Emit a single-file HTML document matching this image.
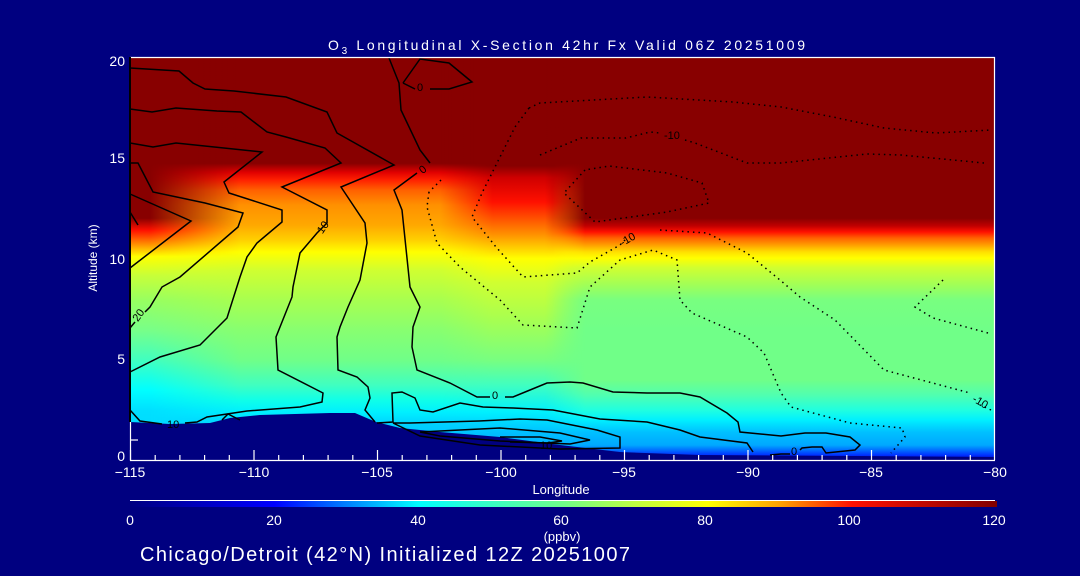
<!DOCTYPE html>
<html><head><meta charset="utf-8"><style>
html,body{margin:0;padding:0;background:#000080;}
svg{display:block;}
text{font-family:"Liberation Sans",sans-serif;fill:#fff;}
</style></head><body>
<svg width="1080" height="576" viewBox="0 0 1080 576" xmlns="http://www.w3.org/2000/svg">
<defs>
<linearGradient id="gBase" gradientUnits="userSpaceOnUse" x1="0" y1="57" x2="0" y2="460">
<stop offset="0" stop-color="#880000"/>
<stop offset="0.264" stop-color="#880000"/>
<stop offset="0.286" stop-color="#e00000"/>
<stop offset="0.305" stop-color="#ff2000"/>
<stop offset="0.330" stop-color="#ff6000"/>
<stop offset="0.367" stop-color="#ff9000"/>
<stop offset="0.417" stop-color="#ffa800"/>
<stop offset="0.454" stop-color="#ffd000"/>
<stop offset="0.484" stop-color="#ffff00"/>
<stop offset="0.529" stop-color="#d0ff30"/>
<stop offset="0.603" stop-color="#a8ff50"/>
<stop offset="0.677" stop-color="#88ff70"/>
<stop offset="0.752" stop-color="#70ff88"/>
<stop offset="0.814" stop-color="#40ffc0"/>
<stop offset="0.851" stop-color="#10ffe8"/>
<stop offset="0.881" stop-color="#00f0ff"/>
<stop offset="0.913" stop-color="#00d0ff"/>
<stop offset="1" stop-color="#00b0ff"/>
</linearGradient>
<linearGradient id="gMid" gradientUnits="userSpaceOnUse" x1="0" y1="57" x2="0" y2="460">
<stop offset="0" stop-color="#880000"/>
<stop offset="0.270" stop-color="#880000"/>
<stop offset="0.300" stop-color="#d00000"/>
<stop offset="0.360" stop-color="#ff1000"/>
<stop offset="0.400" stop-color="#ff5000"/>
<stop offset="0.440" stop-color="#ff9000"/>
<stop offset="0.475" stop-color="#ffd000"/>
<stop offset="0.500" stop-color="#ffff00"/>
<stop offset="0.560" stop-color="#d0ff30"/>
<stop offset="0.650" stop-color="#a8ff50"/>
<stop offset="0.752" stop-color="#78ff80"/>
<stop offset="0.814" stop-color="#40ffc0"/>
<stop offset="0.881" stop-color="#00f0ff"/>
<stop offset="0.931" stop-color="#00c0ff"/>
<stop offset="1" stop-color="#00a0ff"/>
</linearGradient>
<linearGradient id="gEast" gradientUnits="userSpaceOnUse" x1="0" y1="57" x2="0" y2="460">
<stop offset="0" stop-color="#880000"/>
<stop offset="0.400" stop-color="#880000"/>
<stop offset="0.419" stop-color="#c00000"/>
<stop offset="0.434" stop-color="#ff1000"/>
<stop offset="0.449" stop-color="#ff6000"/>
<stop offset="0.467" stop-color="#ffa000"/>
<stop offset="0.484" stop-color="#ffe000"/>
<stop offset="0.499" stop-color="#ffff00"/>
<stop offset="0.523" stop-color="#d0ff30"/>
<stop offset="0.566" stop-color="#a0ff58"/>
<stop offset="0.603" stop-color="#78ff80"/>
<stop offset="0.677" stop-color="#70ff88"/>
<stop offset="0.801" stop-color="#70ff88"/>
<stop offset="0.839" stop-color="#50ffb0"/>
<stop offset="0.876" stop-color="#20ffe0"/>
<stop offset="0.901" stop-color="#00f0ff"/>
<stop offset="0.931" stop-color="#00c0ff"/>
<stop offset="0.963" stop-color="#00a8ff"/>
<stop offset="0.975" stop-color="#0070ff"/>
<stop offset="0.988" stop-color="#0030ff"/>
<stop offset="1" stop-color="#0000c0"/>
</linearGradient>
<linearGradient id="gWest" gradientUnits="userSpaceOnUse" x1="0" y1="57" x2="0" y2="460">
<stop offset="0" stop-color="#880000"/>
<stop offset="0.400" stop-color="#880000"/>
<stop offset="0.430" stop-color="#ff1000"/>
<stop offset="0.465" stop-color="#ff9000"/>
<stop offset="0.495" stop-color="#ffff00"/>
<stop offset="0.541" stop-color="#c8ff38"/>
<stop offset="0.603" stop-color="#98ff60"/>
<stop offset="0.677" stop-color="#78ff88"/>
<stop offset="0.752" stop-color="#40ffc0"/>
<stop offset="0.826" stop-color="#00ffff"/>
<stop offset="0.876" stop-color="#00e0ff"/>
<stop offset="1" stop-color="#00d0ff"/>
</linearGradient>
<linearGradient id="mE" gradientUnits="userSpaceOnUse" x1="545" y1="0" x2="585" y2="0">
<stop offset="0" stop-color="#000"/><stop offset="1" stop-color="#fff"/>
</linearGradient>
<linearGradient id="mM" gradientUnits="userSpaceOnUse" x1="440" y1="0" x2="590" y2="0">
<stop offset="0" stop-color="#000"/><stop offset="0.35" stop-color="#fff"/><stop offset="0.75" stop-color="#fff"/><stop offset="1" stop-color="#000"/>
</linearGradient>
<linearGradient id="mW" gradientUnits="userSpaceOnUse" x1="150" y1="0" x2="240" y2="0">
<stop offset="0" stop-color="#fff"/><stop offset="1" stop-color="#000"/>
</linearGradient>
<mask id="maskE"><rect x="0" y="0" width="1080" height="576" fill="url(#mE)"/></mask>
<mask id="maskM"><rect x="0" y="0" width="1080" height="576" fill="url(#mM)"/></mask>
<mask id="maskW"><rect x="0" y="0" width="1080" height="576" fill="url(#mW)"/></mask>
<linearGradient id="gBar" x1="0" y1="0" x2="1" y2="0">
<stop offset="0" stop-color="#000080"/>
<stop offset="0.167" stop-color="#0000ff"/>
<stop offset="0.333" stop-color="#00ffff"/>
<stop offset="0.5" stop-color="#70ff88"/>
<stop offset="0.583" stop-color="#c0ff40"/>
<stop offset="0.667" stop-color="#ffff00"/>
<stop offset="0.75" stop-color="#ffa000"/>
<stop offset="0.833" stop-color="#ff1000"/>
<stop offset="1" stop-color="#800000"/>
</linearGradient>
</defs>

<text x="328" y="50" font-size="14" textLength="477" lengthAdjust="spacing">O<tspan font-size="10" dy="4">3</tspan><tspan dy="-4"> Longitudinal X-Section 42hr  Fx Valid 06Z 20251009</tspan></text>

<!-- field -->
<rect x="130" y="57" width="865" height="403" fill="url(#gBase)"/>
<rect x="130" y="57" width="865" height="403" fill="url(#gMid)" mask="url(#maskM)"/>
<rect x="130" y="57" width="865" height="403" fill="url(#gEast)" mask="url(#maskE)"/>
<rect x="130" y="57" width="865" height="403" fill="url(#gWest)" mask="url(#maskW)"/>
<!-- terrain -->
<polygon points="130,422 170,424 210,423 230,418 260,415 330,413 355,413 376,422 400,428 440,432 500,437 560,445 620,452 700,455 995,457 995,461 130,461" fill="#000080"/>

<!-- solid contours -->
<g fill="none" stroke="#000" stroke-width="1.5">
<polyline points="130,68 179,71 193,83 205,89 234,91 286,97 327,112 337,133 394,165 341,187 365,223 367,243 360,280 348,307 340,327 337,337 338,370 357,377 368,387 370,398 365,410 375,422"/>
<polyline points="130,109 152,112 176,108 217,111 241,112 267,132 286,137 325,148 341,163 282,187 327,210 327,223 317,233 300,253 293,287 292,297 276,337 278,370 323,393 322,402 300,407 247,411 207,417 197,422 185,423"/>
<polyline points="162,424 140,421 130,410"/>
<polyline points="130,143 153,147 176,143 262,152 224,182 229,193 282,210 282,222 257,243 247,257 240,277 227,318 200,345 160,357 130,372"/>
<polyline points="130,163 138,163 153,192 205,203 243,213 238,227 180,277 162,287 150,307 145,312"/>
<polyline points="135,322 130,328"/>
<polyline points="130,194 191,221 130,268"/>
<polyline points="130,212 138,225"/>
<polyline points="389,58 399,83 401,110 420,150 430,163"/>
<polyline points="417,173 394,190 402,210 410,287 420,307 413,327 412,347 417,370 450,383 477,397 490,397"/>
<polyline points="505,397 513,397 530,390 547,383 570,382 583,383 613,392 647,393 680,393 700,397 727,413 738,422 740,432 781,436 805,433 826,433 850,437 860,445 855,450 826,453 822,447 812,447 802,448 800,450"/>
<polyline points="790,454 781,454 770,455"/>
<polyline points="403,83 420,59 449,63 472,82 449,89 430,89"/>
<polyline points="415,89 403,83"/>
<polyline points="377,423 393,422 392,393 402,392 415,398 420,410 433,412 460,403 483,407 513,408 553,410 600,419 647,422 680,430 700,437 747,443 753,452"/>
<polyline points="393,423 410,423 479,421 520,419 547,420 597,430 620,437 620,448 560,449 480,445 420,436 393,423"/>
<polyline points="420,432 500,428 560,433 590,440 570,444 500,441 440,436 420,432"/>
<polyline points="500,437 540,437 562,441 548,443 510,442"/>
<polyline points="222,420 228,414 240,420"/>
</g>
<!-- dotted contours -->
<g fill="none" stroke="#000" stroke-width="1.5" stroke-dasharray="1.5,4">
<polyline points="529,108 540,103 647,97 733,102 781,107 833,117 884,128 936,133 991,130"/>
<polyline points="529,108 515,127 482,193 472,217 496,247 523,277 577,273 590,262 620,245 627,238"/>
<polyline points="660,230 707,233 747,253 780,280 800,297 835,320 884,370 970,393"/>
<polyline points="991,410 980,405"/>
<polyline points="540,155 581,138 626,138 650,132 660,133"/>
<polyline points="685,140 695,143 747,163 781,163 867,154 901,155 984,163"/>
<polyline points="585,170 564,193 595,222 667,212 709,203 702,183 667,173 609,166 585,170"/>
<polyline points="429,192 427,207 437,243 460,267 500,300 523,325 577,328 590,287 620,260 653,250 677,260 680,300 692,313 747,337 764,353 781,393 791,407 850,423 902,428 905,437 891,453"/>
<polyline points="943,280 915,307 933,318 988,333"/>
<polyline points="441,180 429,192"/>
</g>
<!-- contour labels -->
<g font-size="11">
<text x="417" y="91" style="fill:#000">0</text>
<text x="419" y="172" style="fill:#000" transform="rotate(-40 424 168)">0</text>
<text x="317" y="232" style="fill:#000" transform="rotate(-55 322 228)">10</text>
<text x="132" y="319" style="fill:#000" transform="rotate(-55 138 315)">20</text>
<text x="167" y="428" style="fill:#000">10</text>
<text x="492" y="399" style="fill:#000">0</text>
<text x="664" y="139" style="fill:#000">-10</text>
<text x="619" y="243" style="fill:#000" transform="rotate(-30 627 238)">-10</text>
<text x="973" y="404" style="fill:#000" transform="rotate(30 978 400)">-10</text>
<text x="540" y="449" style="fill:#000">10</text>
<text x="791" y="455" style="fill:#000">0</text>
</g>

<!-- axes -->
<g stroke="#fff" stroke-width="1.2" fill="none">
<line x1="130" y1="57.5" x2="995" y2="57.5"/>
<line x1="994.5" y1="57" x2="994.5" y2="460"/>
<line x1="130" y1="460.5" x2="995" y2="460.5"/>
<line x1="130.5" y1="422" x2="130.5" y2="461"/>
<line x1="130" y1="440" x2="138" y2="440"/>
</g>
<line x1="130" y1="57" x2="130" y2="422" stroke="#000" stroke-width="2"/>
<g stroke="#fff" stroke-width="1.2">
<line x1="130.5" y1="460" x2="130.5" y2="450"/><line x1="155.2" y1="460" x2="155.2" y2="455"/><line x1="179.9" y1="460" x2="179.9" y2="455"/><line x1="204.6" y1="460" x2="204.6" y2="455"/><line x1="229.3" y1="460" x2="229.3" y2="455"/>
<line x1="254" y1="460" x2="254" y2="450"/><line x1="278.7" y1="460" x2="278.7" y2="455"/><line x1="303.4" y1="460" x2="303.4" y2="455"/><line x1="328.1" y1="460" x2="328.1" y2="455"/><line x1="352.8" y1="460" x2="352.8" y2="455"/>
<line x1="377.5" y1="460" x2="377.5" y2="450"/><line x1="402.2" y1="460" x2="402.2" y2="455"/><line x1="426.9" y1="460" x2="426.9" y2="455"/><line x1="451.6" y1="460" x2="451.6" y2="455"/><line x1="476.3" y1="460" x2="476.3" y2="455"/>
<line x1="501" y1="460" x2="501" y2="450"/><line x1="525.7" y1="460" x2="525.7" y2="455"/><line x1="550.4" y1="460" x2="550.4" y2="455"/><line x1="575.1" y1="460" x2="575.1" y2="455"/><line x1="599.8" y1="460" x2="599.8" y2="455"/>
<line x1="624.5" y1="460" x2="624.5" y2="450"/><line x1="649.2" y1="460" x2="649.2" y2="455"/><line x1="673.9" y1="460" x2="673.9" y2="455"/><line x1="698.6" y1="460" x2="698.6" y2="455"/><line x1="723.3" y1="460" x2="723.3" y2="455"/>
<line x1="748" y1="460" x2="748" y2="450"/><line x1="772.7" y1="460" x2="772.7" y2="455"/><line x1="797.4" y1="460" x2="797.4" y2="455"/><line x1="822.1" y1="460" x2="822.1" y2="455"/><line x1="846.8" y1="460" x2="846.8" y2="455"/>
<line x1="871.5" y1="460" x2="871.5" y2="450"/><line x1="896.2" y1="460" x2="896.2" y2="455"/><line x1="920.9" y1="460" x2="920.9" y2="455"/><line x1="945.6" y1="460" x2="945.6" y2="455"/><line x1="970.3" y1="460" x2="970.3" y2="455"/>
</g>
<g font-size="14" text-anchor="middle">
<text x="130" y="477">−115</text><text x="254" y="477">−110</text><text x="377" y="477">−105</text><text x="501" y="477">−100</text>
<text x="624" y="477">−95</text><text x="748" y="477">−90</text><text x="871" y="477">−85</text><text x="995" y="477">−80</text>
<text x="561" y="494" font-size="13">Longitude</text>
</g>
<g font-size="14" text-anchor="end">
<text x="125" y="66">20</text><text x="125" y="163">15</text><text x="125" y="264">10</text><text x="125" y="364">5</text><text x="125" y="461">0</text>
</g>
<text x="0" y="0" font-size="12" text-anchor="middle" transform="translate(97 258) rotate(-90)">Altitude (km)</text>

<!-- colorbar -->
<line x1="130" y1="500.5" x2="995" y2="500.5" stroke="#fff" stroke-width="1"/>
<rect x="130" y="501" width="867" height="6" fill="url(#gBar)"/>
<g font-size="14" text-anchor="middle">
<text x="130" y="525">0</text><text x="274" y="525">20</text><text x="418" y="525">40</text><text x="561" y="525">60</text>
<text x="705" y="525">80</text><text x="849" y="525">100</text><text x="994" y="525">120</text>
<text x="562" y="541" font-size="13">(ppbv)</text>
</g>
<text x="140" y="561" font-size="20" textLength="490" lengthAdjust="spacing">Chicago/Detroit (42°N) Initialized 12Z 20251007</text>
</svg>
</body></html>
